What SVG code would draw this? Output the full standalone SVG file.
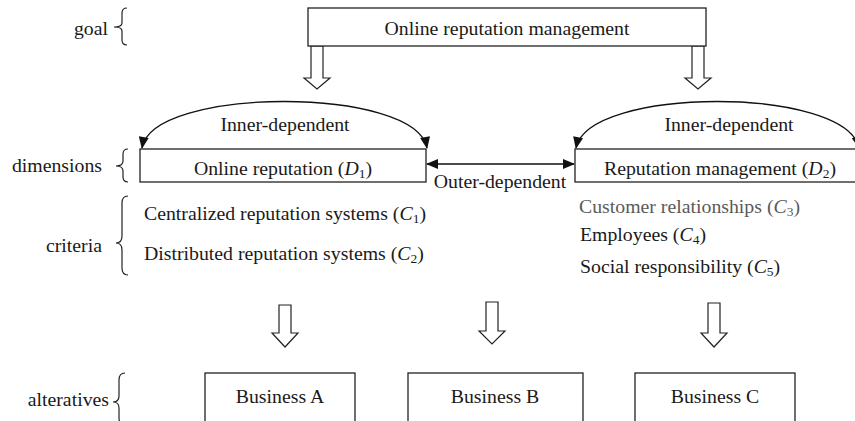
<svg xmlns="http://www.w3.org/2000/svg" width="855" height="421" viewBox="0 0 855 421">
  <defs>
    <marker id="tri" viewBox="0 0 12 10" refX="11" refY="5" markerWidth="13" markerHeight="10" markerUnits="userSpaceOnUse" orient="auto-start-reverse">
      <path d="M0,0 L12,5 L0,10 Z" fill="#111"/>
    </marker>
    <style>
      text { font-family: "Liberation Serif", "Times New Roman", serif; font-size: 19.8px; fill: #1a1a1a; }
      .box { fill: #fff; stroke: #222; stroke-width: 1.3; }
      .hollow { fill: #fff; stroke: #222; stroke-width: 1.2; stroke-linejoin: miter; }
      .brace { fill: none; stroke: #222; stroke-width: 1.2; }
      .link { fill: none; stroke: #111; stroke-width: 1.3; }
      .sub { font-size: 13.5px; }
      .it { font-style: italic; }
      .mid { text-anchor: middle; }
      .gray { fill: #5a5a5a; }
    </style>
  </defs>

  <!-- level labels with braces -->
  <g id="levels">
    <text x="108" y="35" text-anchor="end">goal</text>
    <path class="brace" d="M127,8 Q122,8 122,13 L122,23 Q122,27 114,27 Q122,27 122,31 L122,40 Q122,45 127,45"/>
    <text x="102" y="172" text-anchor="end">dimensions</text>
    <path class="brace" d="M128,149 Q123,149 123,154 L123,161 Q123,166 116,166 Q123,166 123,171 L123,177 Q123,182 128,182"/>
    <text x="102" y="252" text-anchor="end">criteria</text>
    <path class="brace" d="M128,196 Q122,196 122,203 L122,236 Q122,243 116,243 Q122,243 122,250 L122,268 Q122,275 128,275"/>
    <text x="109" y="406" text-anchor="end">alteratives</text>
    <path class="brace" d="M125,373 Q119,373 119,380 L119,396 Q119,402 113,402 Q119,402 119,408 L119,418 Q119,425 125,425"/>
  </g>

  <!-- connectors -->
  <g id="connectors">
    <polygon class="hollow" points="311,46 323,46 323,78 330,78 317,89 304,78 311,78"/>
    <polygon class="hollow" points="692,46 704,46 704,78 711,78 698,89 685,78 692,78"/>
    <polygon class="hollow" points="279,305 291,305 291,333 298,333 285,347 272,333 279,333"/>
    <polygon class="hollow" points="486,302 498,302 498,331 505,331 492,344 479,331 486,331"/>
    <polygon class="hollow" points="708,303 720,303 720,333 727,333 714,347 701,333 708,333"/>
    <path class="link" d="M142,148 C152,86 416,86 427,148" marker-start="url(#tri)" marker-end="url(#tri)"/>
    <path class="link" d="M576,148 C588,86 846,86 859,148" marker-start="url(#tri)" marker-end="url(#tri)"/>
    <path class="link" d="M427,164 L574,164" marker-start="url(#tri)" marker-end="url(#tri)"/>
    <text x="285" y="131" class="mid">Inner-dependent</text>
    <text x="729" y="131" class="mid">Inner-dependent</text>
    <text x="500" y="188" class="mid">Outer-dependent</text>
  </g>

  <g id="goal">
    <rect class="box" x="308" y="8" width="398" height="38"/>
    <text x="507" y="35" class="mid">Online reputation management</text>
  </g>

  <g id="d1">
    <rect class="box" x="140" y="149" width="286" height="33"/>
    <text x="283" y="175" class="mid">Online reputation (<tspan class="it">D</tspan><tspan class="sub" dy="3">1</tspan><tspan dy="-3">)</tspan></text>
  </g>

  <g id="d2">
    <rect class="box" x="575" y="149" width="290" height="33"/>
    <text x="720" y="175" class="mid">Reputation management (<tspan class="it">D</tspan><tspan class="sub" dy="3">2</tspan><tspan dy="-3">)</tspan></text>
  </g>

  <g id="criteria-d1">
    <text x="144" y="220">Centralized reputation systems (<tspan class="it">C</tspan><tspan class="sub" dy="3">1</tspan><tspan dy="-3">)</tspan></text>
    <text x="144" y="260">Distributed reputation systems (<tspan class="it">C</tspan><tspan class="sub" dy="3">2</tspan><tspan dy="-3">)</tspan></text>
  </g>

  <g id="criteria-d2">
    <text x="579" y="213" class="gray">Customer relationships (<tspan class="it">C</tspan><tspan class="sub" dy="3">3</tspan><tspan dy="-3">)</tspan></text>
    <text x="580" y="241">Employees (<tspan class="it">C</tspan><tspan class="sub" dy="3">4</tspan><tspan dy="-3">)</tspan></text>
    <text x="580" y="273">Social responsibility (<tspan class="it">C</tspan><tspan class="sub" dy="3">5</tspan><tspan dy="-3">)</tspan></text>
  </g>

  <g id="business-a">
    <rect class="box" x="205" y="373" width="150" height="60"/>
    <text x="280" y="403" class="mid">Business A</text>
  </g>
  <g id="business-b">
    <rect class="box" x="408" y="373" width="175" height="60"/>
    <text x="495" y="403" class="mid">Business B</text>
  </g>
  <g id="business-c">
    <rect class="box" x="635" y="373" width="160" height="60"/>
    <text x="715" y="403" class="mid">Business C</text>
  </g>
</svg>
